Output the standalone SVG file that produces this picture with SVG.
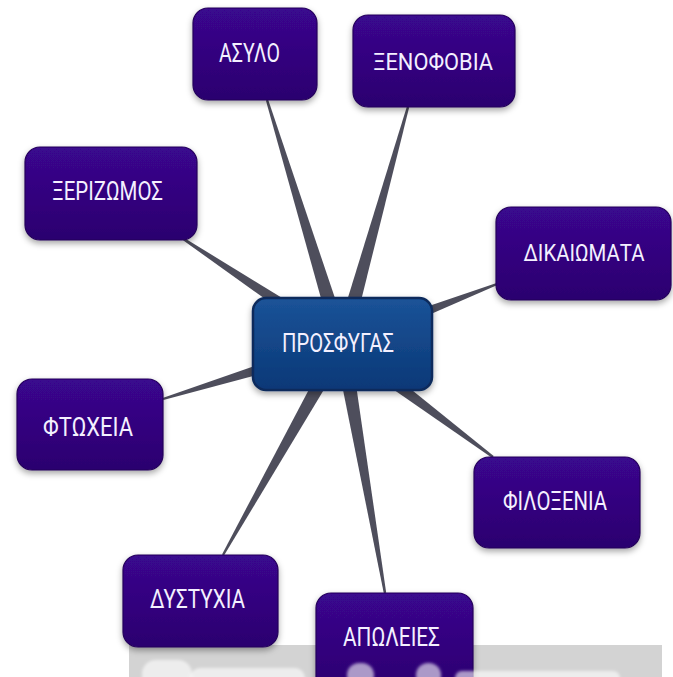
<svg xmlns="http://www.w3.org/2000/svg" width="673" height="677" viewBox="0 0 673 677">
<defs>
<linearGradient id="gp" x1="0" y1="0" x2="0" y2="1">
<stop offset="0" stop-color="#3a078e"/>
<stop offset="1" stop-color="#2b036f"/>
</linearGradient>
<linearGradient id="gb" x1="0" y1="0" x2="0" y2="1">
<stop offset="0" stop-color="#1b5398"/>
<stop offset="1" stop-color="#0a3877"/>
</linearGradient>
<filter id="sh" x="-20%" y="-20%" width="140%" height="150%">
<feDropShadow dx="0" dy="3" stdDeviation="3" flood-color="#000" flood-opacity="0.35"/>
</filter>
<filter id="bl" x="-20%" y="-20%" width="140%" height="140%">
<feGaussianBlur stdDeviation="1.5"/>
</filter>
</defs>
<style>
.box{fill:url(#gp);stroke:#24045a;stroke-width:1.2;filter:url(#sh)}
.ctr{fill:url(#gb);stroke:#0a2b5c;stroke-width:2.5;filter:url(#sh)}
.lbl{font-family:Roboto,"Liberation Sans",sans-serif;font-size:26px;fill:#f4f0ff;text-anchor:middle}
.spoke{fill:#4e4e5c}
</style>
<rect width="673" height="677" fill="#ffffff"/>
<rect x="129" y="645" width="533" height="32" fill="#d3d3d3"/>
<g id="connectors">
<polygon class="spoke" points="349.6,341.6 334.4,346.4 265.9,100.4 268.1,99.6"/>
<polygon class="spoke" points="349.7,346.1 334.3,341.9 406.8,106.7 409.2,107.3"/>
<polygon class="spoke" points="346.4,337.3 337.6,350.7 181.3,239 182.7,237"/>
<polygon class="spoke" points="344.9,351.5 339.1,336.5 496.6,282.9 497.4,285.1"/>
<polygon class="spoke" points="344.4,351.6 339.6,336.4 162.6,397.9 163.4,400.1"/>
<polygon class="spoke" points="346.8,337.6 337.2,350.4 492.3,458 493.7,456"/>
<polygon class="spoke" points="349,347.9 335,340.1 222,554.4 224,555.6"/>
<polygon class="spoke" points="349.9,342.6 334.1,345.4 383.8,593.2 386.2,592.8"/>
</g>
<g id="n-asylo"><rect class="box" x="193" y="8" width="124" height="92" rx="15"/><text class="lbl" x="249.5" y="62" textLength="61" lengthAdjust="spacingAndGlyphs">ΑΣΥΛΟ</text></g>
<g id="n-xenofovia"><rect class="box" x="353" y="15" width="162" height="92" rx="15"/><text class="lbl" x="433" y="70" style="font-size:23px" textLength="120" lengthAdjust="spacingAndGlyphs">ΞΕΝΟΦΟΒΙΑ</text></g>
<g id="n-xerizomos"><rect class="box" x="25" y="147" width="172" height="93" rx="15"/><text class="lbl" x="107.5" y="200" textLength="111" lengthAdjust="spacingAndGlyphs">ΞΕΡΙΖΩΜΟΣ</text></g>
<g id="n-dikaiomata"><rect class="box" x="496" y="207" width="175" height="93" rx="15"/><text class="lbl" x="584" y="261" style="font-size:23px" textLength="121" lengthAdjust="spacingAndGlyphs">ΔΙΚΑΙΩΜΑΤΑ</text></g>
<g id="n-ftoxeia"><rect class="box" x="17" y="379" width="146" height="91" rx="15"/><text class="lbl" x="88" y="436" textLength="90" lengthAdjust="spacingAndGlyphs">ΦΤΩΧΕΙΑ</text></g>
<g id="n-filoxenia"><rect class="box" x="474" y="457" width="166" height="91" rx="15"/><text class="lbl" x="555" y="510" textLength="104" lengthAdjust="spacingAndGlyphs">ΦΙΛΟΞΕΝΙΑ</text></g>
<g id="n-dystyxia"><rect class="box" x="123" y="555" width="155" height="92" rx="15"/><text class="lbl" x="197.5" y="608" textLength="95" lengthAdjust="spacingAndGlyphs">ΔΥΣΤΥΧΙΑ</text></g>
<g id="n-apoleies"><rect class="box" x="316" y="593" width="157" height="100" rx="15"/><text class="lbl" x="391.5" y="646" textLength="97" lengthAdjust="spacingAndGlyphs">ΑΠΩΛΕΙΕΣ</text></g>
<g id="n-prosfygas"><rect class="ctr" x="253" y="298" width="179" height="92" rx="13"/><text class="lbl" x="338" y="352" textLength="112" lengthAdjust="spacingAndGlyphs">ΠΡΟΣΦΥΓΑΣ</text></g>
<g fill="#ffffff" fill-opacity="0.6" filter="url(#bl)">
<rect x="142" y="660" width="50" height="30" rx="14"/>
<rect x="190" y="668" width="115" height="20" rx="10"/>
<rect x="347" y="663" width="27" height="25" rx="12"/>
<rect x="416" y="663" width="25" height="25" rx="12"/>
<rect x="455" y="671" width="165" height="15" rx="7"/>
</g>
</svg>
